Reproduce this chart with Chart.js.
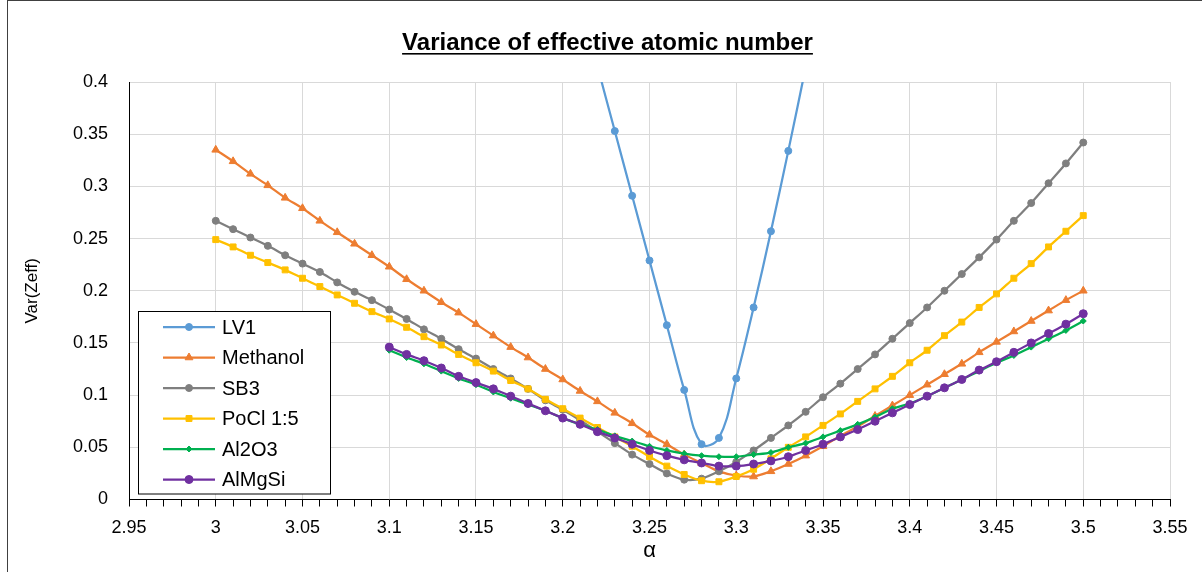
<!DOCTYPE html>
<html>
<head>
<meta charset="utf-8">
<script src="https://cdn.jsdelivr.net/npm/chart.js@4.4.1/dist/chart.umd.min.js"></script>
<style>
  html, body { margin: 0; padding: 0; background: #fff; }
  #wrap { position: relative; width: 1202px; height: 572px; }
</style>
</head>
<body>
<div id="wrap"><canvas id="chart" width="1202" height="572"></canvas></div>
<script>
const FONT = "'Liberation Sans', Arial, sans-serif";
const TITLE = 'Variance of effective atomic number';

// alpha values (x)
const alpha = [
    3.00, 3.01, 3.02, 3.03, 3.04, 3.05, 3.06, 3.07, 3.08, 3.09,
    3.10, 3.11, 3.12, 3.13, 3.14, 3.15, 3.16, 3.17, 3.18, 3.19,
    3.20, 3.21, 3.22, 3.23, 3.24, 3.25, 3.26, 3.27, 3.28, 3.29,
    3.30, 3.31, 3.32, 3.33, 3.34, 3.35, 3.36, 3.37, 3.38, 3.39,
    3.40, 3.41, 3.42, 3.43, 3.44, 3.45, 3.46, 3.47, 3.48, 3.49,
    3.50
];
const alphaAl = alpha.slice(10); // Al2O3 i AlMgSi zaczynaja od 3.1
const alphaLV1 = [3.22, 3.23, 3.24, 3.25, 3.26, 3.27, 3.28, 3.29, 3.30, 3.31, 3.32, 3.33, 3.34];

// Var(Zeff)
const lv1 = [0.415, 0.353, 0.291, 0.229, 0.167, 0.105, 0.053, 0.059, 0.116, 0.184, 0.257, 0.334, 0.414];
const methanol = [
    0.335, 0.324, 0.312, 0.301, 0.289, 0.279, 0.267, 0.256, 0.245, 0.234,
    0.223, 0.211, 0.200, 0.189, 0.179, 0.168, 0.157, 0.146, 0.136, 0.125,
    0.115, 0.104, 0.094, 0.083, 0.073, 0.062, 0.053, 0.043, 0.035, 0.027,
    0.023, 0.022, 0.027, 0.034, 0.042, 0.051, 0.061, 0.070, 0.080, 0.090,
    0.100, 0.110, 0.120, 0.130, 0.141, 0.151, 0.161, 0.171, 0.181, 0.191,
    0.200
];
const sb3 = [
    0.267, 0.259, 0.251, 0.243, 0.234, 0.226, 0.218, 0.208, 0.199, 0.191,
    0.182, 0.173, 0.163, 0.154, 0.144, 0.135, 0.125, 0.116, 0.106, 0.095,
    0.086, 0.076, 0.065, 0.054, 0.043, 0.034, 0.025, 0.019, 0.020, 0.027,
    0.036, 0.047, 0.059, 0.071, 0.084, 0.098, 0.111, 0.125, 0.139, 0.154,
    0.169, 0.184, 0.200, 0.216, 0.232, 0.249, 0.267, 0.284, 0.303, 0.322,
    0.342
];
const pocl = [
    0.249, 0.242, 0.234, 0.227, 0.220, 0.212, 0.204, 0.196, 0.188, 0.180,
    0.173, 0.165, 0.156, 0.148, 0.139, 0.131, 0.123, 0.114, 0.106, 0.096,
    0.087, 0.078, 0.069, 0.060, 0.051, 0.041, 0.032, 0.024, 0.018, 0.017,
    0.022, 0.029, 0.039, 0.050, 0.060, 0.071, 0.082, 0.094, 0.106, 0.118,
    0.131, 0.143, 0.157, 0.170, 0.184, 0.197, 0.212, 0.226, 0.242, 0.257,
    0.272
];
const al2o3 = [
    0.143, 0.136, 0.130, 0.123, 0.116, 0.110, 0.103, 0.097, 0.091, 0.085,
    0.078, 0.072, 0.067, 0.061, 0.056, 0.051, 0.047, 0.044, 0.042, 0.041,
    0.041, 0.043, 0.045, 0.050, 0.054, 0.060, 0.066, 0.072, 0.079, 0.087,
    0.092, 0.099, 0.107, 0.115, 0.123, 0.131, 0.138, 0.146, 0.154, 0.162,
    0.171
];
const almgsi = [
    0.146, 0.139, 0.133, 0.126, 0.118, 0.112, 0.106, 0.099, 0.092, 0.085,
    0.078, 0.072, 0.065, 0.059, 0.053, 0.047, 0.042, 0.038, 0.035, 0.032,
    0.032, 0.034, 0.037, 0.041, 0.047, 0.053, 0.060, 0.067, 0.075, 0.083,
    0.091, 0.099, 0.107, 0.115, 0.124, 0.132, 0.141, 0.150, 0.159, 0.168,
    0.178
];

const seriesNames = ['LV1', 'Methanol', 'SB3', 'PoCl 1:5', 'Al2O3', 'AlMgSi'];
const seriesColors = ['#5B9BD5', '#ED7D31', '#7F7F7F', '#FFC000', '#00B050', '#7030A0'];
const seriesMarkers = ['circle', 'triangle', 'circle', 'rect', 'rectRot', 'circle'];
const seriesMarkerSize = [3.5, 4.5, 3.5, 4.2, 3, 4];

const toPoints = (xs, ys) => xs.map((x, i) => ({ x: x, y: ys[i] }));
const seriesData = [
    toPoints(alphaLV1, lv1),
    toPoints(alpha, methanol),
    toPoints(alpha, sb3),
    toPoints(alpha, pocl),
    toPoints(alphaAl, al2o3),
    toPoints(alphaAl, almgsi)
];

const fmt = v => String(parseFloat(Number(v).toFixed(2)));
const isMajor = v => Math.round(v * 100) % 5 === 0;

// Tytul podkreslony (Chart.js nie ma podkreslenia)
const titlePlugin = {
    id: 'underlinedTitle',
    afterDraw(chart) {
        const ctx = chart.ctx;
        ctx.save();
        ctx.font = 'bold 24px ' + FONT;
        ctx.fillStyle = '#000';
        ctx.textAlign = 'center';
        ctx.textBaseline = 'alphabetic';
        const cx = 607.5, by = 50;
        ctx.fillText(TITLE, cx, by);
        const w = ctx.measureText(TITLE).width;
        ctx.fillRect(cx - w / 2, by + 3, w, 1.6);
        ctx.restore();
    }
};

// Legenda w ramce wewnatrz obszaru wykresu
const legendPlugin = {
    id: 'boxLegend',
    afterDraw(chart) {
        const ctx = chart.ctx;
        const x0 = 138.5, y0 = 311.5, w = 192, h = 182.5;
        ctx.save();
        ctx.fillStyle = '#fff';
        ctx.fillRect(x0, y0, w, h);
        ctx.strokeStyle = '#000';
        ctx.lineWidth = 1;
        ctx.strokeRect(x0, y0, w, h);
        ctx.font = '20px ' + FONT;
        ctx.textBaseline = 'middle';
        ctx.textAlign = 'left';
        chart.data.datasets.forEach((ds, i) => {
            const y = 327 + i * 30.5;
            ctx.strokeStyle = ds.borderColor;
            ctx.lineWidth = ds.borderWidth;
            ctx.beginPath();
            ctx.moveTo(163, y);
            ctx.lineTo(215, y);
            ctx.stroke();
            ctx.fillStyle = ds.pointBackgroundColor;
            ctx.lineWidth = 1;
            if (Chart.helpers && Chart.helpers.drawPoint) {
                Chart.helpers.drawPoint(ctx, {
                    pointStyle: ds.pointStyle,
                    radius: ds.pointRadius,
                    borderWidth: 1,
                    rotation: 0
                }, 189, y);
            } else {
                ctx.beginPath();
                ctx.arc(189, y, ds.pointRadius, 0, Math.PI * 2);
                ctx.fill();
            }
            ctx.fillStyle = '#000';
            ctx.fillText(ds.label, 222, y + 1);
        });
        ctx.restore();
    }
};

// Ramka calego wykresu
const framePlugin = {
    id: 'frame',
    afterDraw(chart) {
        const ctx = chart.ctx;
        ctx.save();
        ctx.strokeStyle = '#404040';
        ctx.lineWidth = 1;
        ctx.strokeRect(7.5, 0.5, 1300, 700);
        ctx.restore();
    }
};

new Chart(document.getElementById('chart'), {
    type: 'line',
    data: {
        datasets: seriesNames.map((name, i) => ({
            label: name,
            data: seriesData[i],
            borderColor: seriesColors[i],
            backgroundColor: seriesColors[i],
            pointBackgroundColor: seriesColors[i],
            pointBorderColor: seriesColors[i],
            pointBorderWidth: 1,
            pointStyle: seriesMarkers[i],
            pointRadius: seriesMarkerSize[i],
            borderWidth: 2.25,
            tension: i === 0 ? 0.4 : 0.25,
            fill: false,
            order: seriesNames.length - 1 - i
        }))
    },
    options: {
        responsive: false,
        animation: false,
        devicePixelRatio: 1,
        layout: { padding: { top: 82, right: 32, bottom: 0, left: 0 } },
        plugins: {
            legend: { display: false },
            tooltip: { enabled: false }
        },
        scales: {
            x: {
                type: 'linear',
                min: 2.95,
                max: 3.55,
                afterFit: s => { s.height = 72.5; },
                border: { display: true, color: '#000', width: 1 },
                grid: {
                    color: c => (c.tick && isMajor(c.tick.value)) ? '#d9d9d9' : 'rgba(0,0,0,0)',
                    lineWidth: 1,
                    drawTicks: true,
                    tickLength: 7,
                    tickColor: '#000',
                    tickWidth: 1
                },
                ticks: {
                    stepSize: 0.01,
                    maxTicksLimit: 100,
                    autoSkip: false,
                    maxRotation: 0,
                    minRotation: 0,
                    padding: 11,
                    color: '#000',
                    font: { family: FONT, size: 18 },
                    callback: v => isMajor(v) ? fmt(v) : ''
                },
                title: {
                    display: true,
                    text: 'α',
                    color: '#000',
                    font: { family: FONT, size: 22 },
                    padding: { top: 0, bottom: 8 }
                }
            },
            y: {
                min: 0,
                max: 0.4,
                afterFit: s => { s.width = 129; },
                border: { display: true, color: '#000', width: 1 },
                grid: { color: '#d9d9d9', lineWidth: 1, drawTicks: false },
                ticks: {
                    stepSize: 0.05,
                    padding: 21,
                    color: '#000',
                    font: { family: FONT, size: 18 },
                    callback: v => fmt(v)
                },
                title: {
                    display: true,
                    text: 'Var(Zeff)',
                    color: '#000',
                    font: { family: FONT, size: 17 },
                    padding: { top: 22, bottom: 0 }
                }
            }
        }
    },
    plugins: [titlePlugin, legendPlugin, framePlugin]
});
</script>
</body>
</html>
